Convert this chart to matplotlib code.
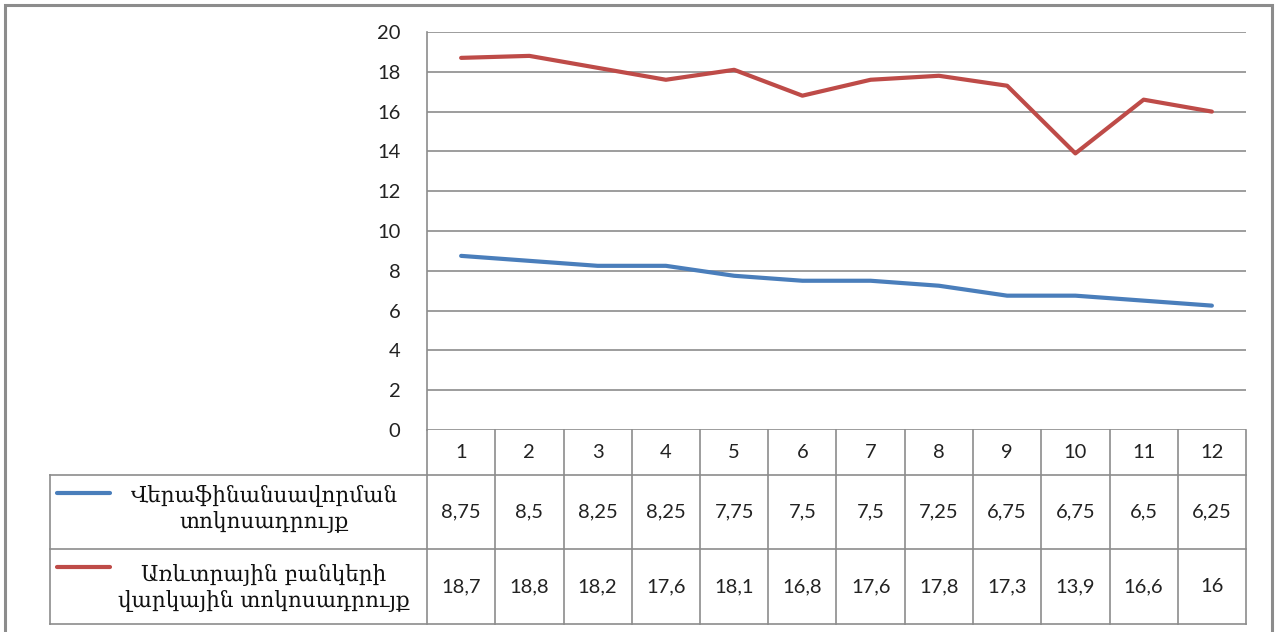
import matplotlib
matplotlib.use("Agg")
import matplotlib.pyplot as plt
from matplotlib.lines import Line2D
from matplotlib.patches import Rectangle

categories = ["1", "2", "3", "4", "5", "6", "7", "8", "9", "10", "11", "12"]
refinancing = [8.75, 8.5, 8.25, 8.25, 7.75, 7.5, 7.5, 7.25, 6.75, 6.75, 6.5, 6.25]
lending = [18.7, 18.8, 18.2, 17.6, 18.1, 16.8, 17.6, 17.8, 17.3, 13.9, 16.6, 16]
series_names = ["Վերաֆինանսավորման\nտոկոսադրույք",
                "Առևտրային բանկերի\nվարկային տոկոսադրույք"]
series_colors = ["#4A7EBB", "#BE4B48"]
yticks = [0, 2, 4, 6, 8, 10, 12, 14, 16, 18, 20]

W, H = 1278, 632
fig = plt.figure(figsize=(W / 100, H / 100), dpi=100)
num_font = ["Lato", "DejaVu Sans"]
arm_font = ["DejaVu Serif", "DejaVu Sans"]
num_size = 14.5

def fx(px):
    return px / W

def fy(py):
    return 1 - py / H

# outer frame
fig.add_artist(Rectangle((fx(5), fy(640)), fx(1272) - fx(5), fy(5) - fy(640),
                         transform=fig.transFigure, fill=False,
                         edgecolor="#8c8c8c", lw=2.2))

ax_l, ax_r, ax_t, ax_b = 427, 1246, 32, 430
ax = fig.add_axes([fx(ax_l), fy(ax_b), fx(ax_r) - fx(ax_l), fy(ax_t) - fy(ax_b)])
n = len(categories)
x = list(range(1, n + 1))
ax.set_xlim(0.5, n + 0.5)
ax.set_ylim(0, 20)
ax.set_yticks(yticks)
ax.set_yticklabels([str(v) for v in yticks], fontsize=num_size, family=num_font, color="#222222")
ax.tick_params(axis="y", length=0, pad=19)
ax.set_xticks([])
for s in ["top", "right", "bottom"]:
    ax.spines[s].set_visible(False)
ax.spines["left"].set_color("#8c8c8c")
ax.spines["left"].set_linewidth(1.2)
ax.grid(axis="y", color="#8c8c8c", lw=1.2)
ax.set_axisbelow(True)

for vals, col in zip([refinancing, lending], series_colors):
    ax.plot(x, vals, color=col, lw=3.0, solid_capstyle="round", solid_joinstyle="round", zorder=3)

# data table (drawn in figure coordinates)
tc = "#8c8c8c"
row_y = [430, 475, 549, 624]
tab_l = 50
col_w = (ax_r - ax_l) / n

def hline(y, x0, x1):
    fig.add_artist(Line2D([fx(x0), fx(x1)], [fy(y), fy(y)], transform=fig.transFigure,
                          color=tc, lw=1.2))

def vline(xp, y0, y1):
    fig.add_artist(Line2D([fx(xp), fx(xp)], [fy(y0), fy(y1)], transform=fig.transFigure,
                          color=tc, lw=1.2))

hline(row_y[1], tab_l, ax_r)
hline(row_y[2], tab_l, ax_r)
hline(row_y[3], tab_l, ax_r)
vline(tab_l, row_y[1], row_y[3])
vline(ax_l, row_y[0], row_y[3])
for i in range(1, n + 1):
    vline(ax_l + i * col_w, row_y[0], row_y[3])

for i, c in enumerate(categories):
    cx = ax_l + (i + 0.5) * col_w
    fig.text(fx(cx), fy((row_y[0] + row_y[1]) / 2), c, ha="center", va="center",
             fontsize=num_size, family=num_font, color="#222222")
    for r, vals in enumerate([refinancing, lending]):
        txt = ("%g" % vals[i]).replace(".", ",")
        fig.text(fx(cx), fy((row_y[r + 1] + row_y[r + 2]) / 2), txt, ha="center", va="center",
                 fontsize=num_size, family=num_font, color="#222222")

key_y = [493, 567]
text_y = [509, 588]
for r in range(2):
    fig.add_artist(Line2D([fx(57), fx(110)], [fy(key_y[r]), fy(key_y[r])],
                          transform=fig.transFigure, color=series_colors[r], lw=3.0,
                          solid_capstyle="round"))
    fig.text(fx(264), fy(text_y[r]), series_names[r], ha="center", va="center",
             fontsize=15.5, family=arm_font, color="#111111", linespacing=1.2)

fig.savefig("out.png", dpi=100, facecolor="white")
